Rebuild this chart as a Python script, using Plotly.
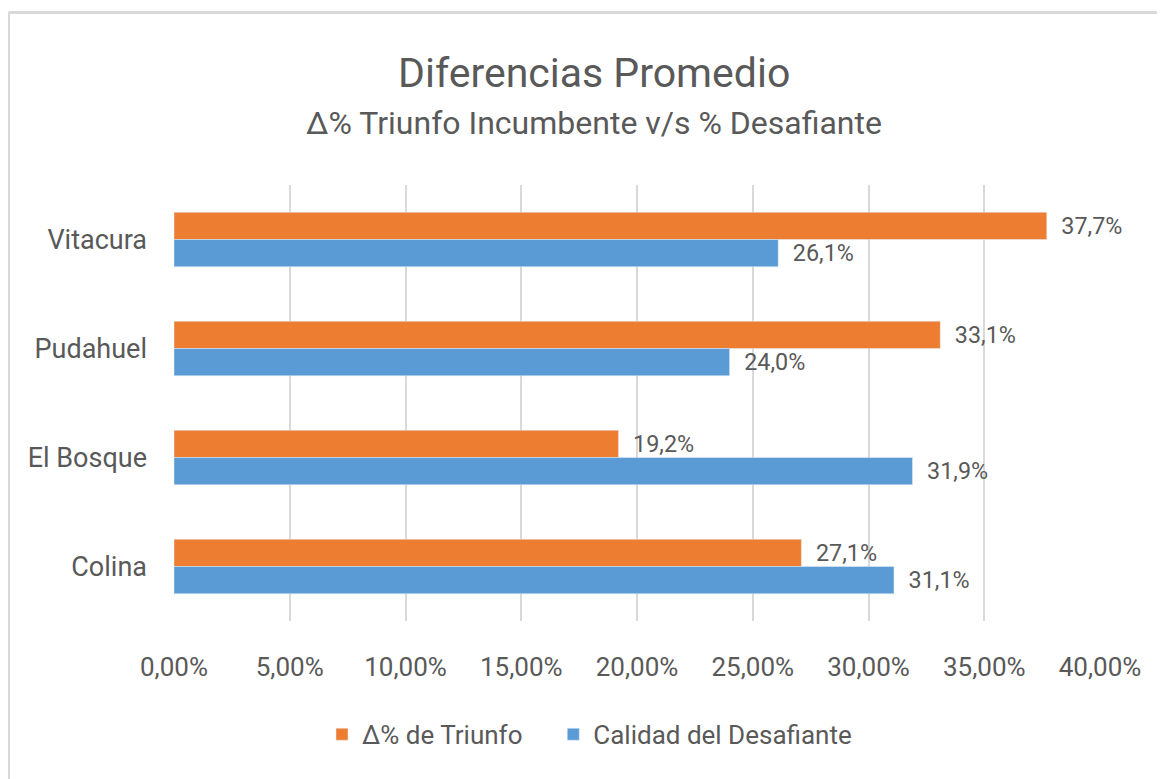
import plotly.graph_objects as go

# Data
comunas = ["Vitacura", "Pudahuel", "El Bosque", "Colina"]
triunfo = [0.377, 0.331, 0.192, 0.271]
desafiante = [0.261, 0.240, 0.319, 0.311]
tick_vals = [0, 0.05, 0.10, 0.15, 0.20, 0.25, 0.30, 0.35, 0.40]

FONT = "Roboto, sans-serif"
GRAY = "#595959"

fig = go.Figure()

fig.add_trace(go.Bar(
    y=comunas, x=triunfo, orientation="h", name="Δ% de Triunfo" + "\u00a0" * 4,
    marker_color="#ED7D31",
    texttemplate="\u00a0\u00a0%{x:.1%}", textposition="outside",
    textfont=dict(size=24, color=GRAY, family=FONT),
    cliponaxis=False,
))
fig.add_trace(go.Bar(
    y=comunas, x=desafiante, orientation="h", name="Calidad del Desafiante",
    marker_color="#5B9BD5",
    texttemplate="\u00a0\u00a0%{x:.1%}", textposition="outside",
    textfont=dict(size=24, color=GRAY, family=FONT),
    cliponaxis=False,
))

# the page body adds an 8px offset, so the figure is 8px smaller on each axis
fig.update_layout(
    width=1157, height=771,
    margin=dict(l=166, r=65, t=177, b=158),
    paper_bgcolor="white", plot_bgcolor="white",
    font=dict(family=FONT, color=GRAY, size=24),
    separators=",.",
    barmode="group", bargap=0.5, bargroupgap=0,
    showlegend=True,
    legend=dict(orientation="h", x=(322 - 174) / 926, xanchor="left", y=-0.26, yanchor="middle",
                font=dict(size=26, color=GRAY), itemwidth=30, tracegroupgap=0),
    annotations=[
        dict(text="Diferencias Promedio", xref="paper", yref="paper", x=0.4536, y=(621 - 73) / 436,
             xanchor="center", yanchor="middle", showarrow=False,
             font=dict(size=41, color=GRAY, family=FONT)),
        dict(text="∆% Triunfo Incumbente v/s % Desafiante", xref="paper", yref="paper",
             x=0.4536, y=(621 - 123) / 436, xanchor="center", yanchor="middle", showarrow=False,
             font=dict(size=32, color=GRAY, family=FONT)),
    ],
    shapes=[
        dict(type="line", xref="paper", yref="paper", x0=(8.5 - 174) / 926, x1=(1165 - 174) / 926,
             y0=(621 - 12.5) / 436, y1=(621 - 12.5) / 436, line=dict(color="#d9d9d9", width=3)),
        dict(type="line", xref="paper", yref="paper", x0=(8.5 - 174) / 926, x1=(8.5 - 174) / 926,
             y0=(621 - 12.5) / 436, y1=(621 - 790) / 436, line=dict(color="#d9d9d9", width=3)),
    ],
)

fig.update_xaxes(
    range=[0, 0.40], tickvals=tick_vals, tickformat=".2%",
    showgrid=True, gridcolor="#d9d9d9", gridwidth=2,
    zeroline=False, showline=False, ticks="",
    tickfont=dict(size=26, color=GRAY), ticklabelstandoff=28,
)
fig.update_yaxes(
    autorange="reversed", showgrid=False, zeroline=False, showline=False, ticks="",
    tickfont=dict(size=27, color=GRAY), ticklabelstandoff=26,
)

fig.write_html("out.html")
